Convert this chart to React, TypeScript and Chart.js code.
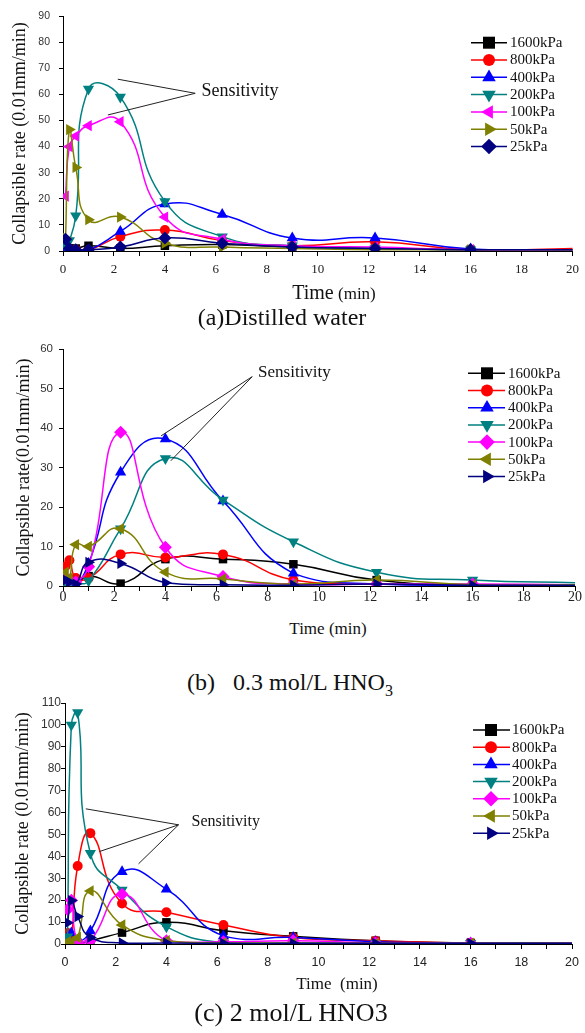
import React, { useEffect, useRef } from 'react';
import { Chart, registerables } from 'chart.js';

Chart.register(...registerables);

const SERIF = '"Liberation Serif", "Times New Roman", serif';
const SANS = '"Liberation Sans", Arial, sans-serif';

// Sampling times (min)
const TIMES = [0.1, 0.25, 0.5, 1, 2.25, 4, 6.25, 9, 12.25, 16, 20.25];
const LOADS = ['1600kPa', '800kPa', '400kPa', '200kPa', '100kPa', '50kPa', '25kPa'];
const COLORS = ['#000000', '#ff0000', '#0000ff', '#008080', '#ff00ff', '#808000', '#000080'];

// (a) Distilled water
const A_1600 = [3.5, 1, 1, 2, 1, 2, 2.5, 1.5, 1, 0.5, 0.5];
const A_800 = [1, 0.5, 0.5, 0.3, 5.5, 8, 4, 2, 3.5, 0.5, 1];
const A_400 = [1, 0.5, 0.3, 0.3, 7.5, 18, 14, 5, 5, 0.8, 0.5];
const A_200 = [2, 4, 13.5, 62, 59, 19, 5.5, 2, 1, 0.5, 0.5];
const A_100 = [21, 40, 44, 48, 49.5, 13, 4.5, 2, 1.5, 0.5, 0.5];
const A_50 = [5, 46.5, 32, 12, 13, 3, 1.5, 1, 0.5, 0.5, 0.5];
const A_25 = [4.5, 1, 0.5, 0.5, 1.5, 5, 3, 1.5, 1, 0.5, 0.5];

// (b) 0.3 mol/L HNO3
const B_1600 = [1.5, 1, 0.5, 2.5, 0.6, 6.8, 6.8, 5.5, 1.5, 0.3, 0.3];
const B_800 = [5, 6.5, 2, 2, 8, 7.2, 8, 1.5, 0.5, 0.3, 0.3];
const B_400 = [1, 0.5, 0.3, 5.7, 28.8, 37.2, 21.5, 3.2, 0.5, 0.2, 0.2];
const B_200 = [0.5, 0.5, 0.5, 1.3, 14.5, 32.3, 21.8, 11.2, 3.5, 1.5, 0.8];
const B_100 = [2, 1.5, 1, 4.9, 38.9, 9.8, 2.4, 0.5, 0.5, 0.5, 0.3];
const B_50 = [3.5, 2, 10.5, 10, 14.5, 3.5, 1.8, 0.5, 1.5, 0.3, 0.3];
const B_25 = [1.5, 1, 0.5, 6, 5.7, 0.8, 0.3, 0.2, 0.5, 0.2, 0.2];

// (c) 2 mol/L HNO3
const C_1600 = [4.9, 2, 0.5, 1.5, 5.2, 9.9, 6, 3.5, 1.5, 0.5, 0.3];
const C_800 = [5, 3, 35.6, 50.6, 18.5, 14.5, 8.7, 3, 1.5, 0.5, 0.3];
const C_400 = [3, 5, 1, 5.9, 33, 25, 3.7, 3, 1, 0.5, 0.3];
const C_200 = [3.3, 100, 105.7, 41.4, 24.7, 7.9, 0.5, 0.5, 0.3, 0.3, 0.3];
const C_100 = [15.8, 20, 1, 1.5, 22.7, 1.5, 1, 1.5, 0.5, 0.3, 0.3];
const C_50 = [1, 1, 3, 24.2, 8.7, 1.5, 0.5, 0.5, 0.3, 0.3, 0.3];
const C_25 = [9.7, 19.8, 12.5, 3, 0.5, 0.5, 0.3, 0.3, 0.3, 0.3, 0.3];

type Marker = 'square' | 'circle' | 'up' | 'down' | 'left' | 'right' | 'diamond';
const A_MARKERS: Marker[] = ['square', 'circle', 'up', 'down', 'left', 'right', 'diamond'];
const BC_MARKERS: Marker[] = ['square', 'circle', 'up', 'down', 'diamond', 'left', 'right'];

function pointStyleFor(m: Marker) {
  switch (m) {
    case 'square': return { style: 'rect', rot: 0, r: 6 };
    case 'circle': return { style: 'circle', rot: 0, r: 5 };
    case 'up': return { style: 'triangle', rot: 0, r: 6.5 };
    case 'down': return { style: 'triangle', rot: 180, r: 6.5 };
    case 'left': return { style: 'triangle', rot: 270, r: 6.5 };
    case 'right': return { style: 'triangle', rot: 90, r: 6.5 };
    default: return { style: 'rectRot', rot: 0, r: 6.5 };
  }
}

function drawMarker(ctx: CanvasRenderingContext2D, m: Marker, x: number, y: number, s: number, color: string) {
  ctx.save();
  ctx.fillStyle = color;
  ctx.beginPath();
  const tri = (deg: number) => {
    const R = s * 1.3;
    for (let k = 0; k < 3; k++) {
      const a = ((deg + k * 120) * Math.PI) / 180;
      const px = x + Math.sin(a) * R;
      const py = y - Math.cos(a) * R;
      if (k === 0) ctx.moveTo(px, py); else ctx.lineTo(px, py);
    }
    ctx.closePath();
  };
  switch (m) {
    case 'square': ctx.rect(x - s, y - s, 2 * s, 2 * s); break;
    case 'circle': ctx.arc(x, y, s, 0, Math.PI * 2); break;
    case 'up': tri(0); break;
    case 'down': tri(180); break;
    case 'left': tri(270); break;
    case 'right': tri(90); break;
    default: {
      const R = s * 1.3;
      ctx.moveTo(x, y - R); ctx.lineTo(x + R, y); ctx.lineTo(x, y + R); ctx.lineTo(x - R, y); ctx.closePath();
    }
  }
  ctx.fill();
  ctx.restore();
}

interface PanelProps {
  top: number;
  height: number;
  series: number[][];
  markers: Marker[];
  yMax: number;
  yTitle: string;
  yTitleSize: number;
  yTitleCenter: number;
  area: { left: number; right: number; top: number; bottom: number };
  yTickFont: { family: string; size: number };
  yTickPad: number;
  xTickFont: { family: string; size: number };
  xTickPad: number;
  legend: { x0: number; x1: number; xm: number; xt: number; y0: number; dy: number };
  annot: { apex: number[]; targets: number[][]; text: number[]; size: number };
}

function Panel(p: PanelProps) {
  const ref = useRef<HTMLCanvasElement>(null);
  useEffect(() => {
    const canvas = ref.current!;
    const overlay = {
      id: 'overlay',
      afterDatasetsDraw(chart: any) {
        const ctx: CanvasRenderingContext2D = chart.ctx;
        const xs = chart.scales.x;
        const ys = chart.scales.y;
        const ax = xs.getPixelForValue(p.annot.apex[0]);
        const ay = ys.getPixelForValue(p.annot.apex[1]);
        ctx.save();
        ctx.strokeStyle = '#222';
        ctx.lineWidth = 1;
        p.annot.targets.forEach((t) => {
          ctx.beginPath();
          ctx.moveTo(ax, ay);
          ctx.lineTo(xs.getPixelForValue(t[0]), ys.getPixelForValue(t[1]));
          ctx.stroke();
        });
        ctx.fillStyle = '#111';
        ctx.font = `${p.annot.size}px ${SERIF}`;
        ctx.textBaseline = 'middle';
        ctx.textAlign = 'left';
        ctx.fillText('Sensitivity', xs.getPixelForValue(p.annot.text[0]), ys.getPixelForValue(p.annot.text[1]));
        ctx.restore();
        const L = p.legend;
        ctx.save();
        LOADS.forEach((lab, i) => {
          const y = L.y0 + i * L.dy;
          ctx.strokeStyle = COLORS[i];
          ctx.lineWidth = 1.5;
          ctx.beginPath();
          ctx.moveTo(L.x0, y);
          ctx.lineTo(L.x1, y);
          ctx.stroke();
          drawMarker(ctx, p.markers[i], L.xm, y, 6, COLORS[i]);
          ctx.fillStyle = '#111';
          ctx.font = `15px ${SERIF}`;
          ctx.textBaseline = 'middle';
          ctx.textAlign = 'left';
          ctx.fillText(lab, L.xt, y + 0.5);
        });
        ctx.restore();
      },
    };
    const chart = new Chart(canvas, {
      type: 'line',
      data: {
        datasets: p.series.map((vals, i) => {
          const ps = pointStyleFor(p.markers[i]);
          return {
            label: LOADS[i],
            data: TIMES.map((t, j) => ({ x: t, y: vals[j] })),
            borderColor: COLORS[i],
            backgroundColor: COLORS[i],
            borderWidth: 1.5,
            pointStyle: ps.style as any,
            pointRotation: ps.rot,
            pointRadius: ps.r,
            pointBorderWidth: 0,
            pointBackgroundColor: COLORS[i],
            tension: 0.5,
            fill: false,
            order: 10 - i,
          };
        }),
      },
      options: {
        animation: false,
        responsive: false,
        events: [],
        layout: {
          padding: { left: 0, top: p.area.top, right: 585 - p.area.right, bottom: 0 },
        },
        plugins: { legend: { display: false }, tooltip: { enabled: false } },
        scales: {
          x: {
            type: 'linear',
            min: 0,
            max: 20,
            afterFit: (s: any) => { s.height = p.height - p.area.bottom; },
            grid: { drawOnChartArea: false, drawTicks: true, tickLength: 5, color: '#000' },
            border: { display: true, color: '#000', width: 1 },
            ticks: {
              stepSize: 1,
              autoSkip: false,
              maxRotation: 0,
              padding: p.xTickPad,
              color: '#222',
              font: p.xTickFont,
              callback: (v: any) => (Number(v) % 2 === 0 ? String(v) : ''),
            },
          },
          y: {
            type: 'linear',
            min: 0,
            max: p.yMax,
            afterFit: (s: any) => { s.width = p.area.left; },
            grid: { drawOnChartArea: false, drawTicks: true, tickLength: 4, color: '#000' },
            border: { display: true, color: '#000', width: 1 },
            ticks: { stepSize: 10, padding: p.yTickPad, color: '#333', font: p.yTickFont },
            title: {
              display: true,
              text: p.yTitle,
              color: '#111',
              font: { family: SERIF, size: p.yTitleSize },
              padding: { top: p.yTitleCenter - (p.yTitleSize * 1.2) / 2, bottom: 0 },
            },
          },
        },
      },
      plugins: [overlay],
    } as any);
    return () => chart.destroy();
  }, []);
  return (
    <canvas
      ref={ref}
      width={585}
      height={p.height}
      style={{ position: 'absolute', left: 0, top: p.top, width: 585, height: p.height }}
    />
  );
}

const textStyle = (left: number, top: number, size: number): React.CSSProperties => ({
  position: 'absolute',
  left,
  top,
  transform: 'translate(-50%, -50%)',
  fontFamily: SERIF,
  fontSize: size,
  lineHeight: 1,
  whiteSpace: 'pre',
  color: '#111',
});

export default function App() {
  return (
    <div style={{ position: 'absolute', left: 0, top: 0, width: 585, height: 1033, background: '#fff', overflow: 'hidden' }}>
      <Panel
        top={0}
        height={285}
        series={[A_1600, A_800, A_400, A_200, A_100, A_50, A_25]}
        markers={A_MARKERS}
        yMax={90}
        yTitle="Collapsible rate (0.01mm/min)"
        yTitleSize={18}
        yTitleCenter={20}
        area={{ left: 63, right: 578, top: 16, bottom: 251 }}
        yTickFont={{ family: SANS, size: 10.5 }}
        yTickPad={9}
        xTickFont={{ family: SERIF, size: 13 }}
        xTickPad={6}
        legend={{ x0: 471, x1: 507, xm: 489, xt: 510, y0: 42.7, dy: 17.3 }}
        annot={{ apex: [5.19, 60.4], targets: [[2.15, 65.8], [1.76, 52.1]], text: [5.44, 61], size: 18 }}
      />
      <div style={textStyle(334, 292, 20)}>Time<span style={{ fontSize: 17 }}> (min)</span></div>
      <div style={textStyle(282, 317, 24)}>(a)Distilled water</div>

      <Panel
        top={330}
        height={285}
        series={[B_1600, B_800, B_400, B_200, B_100, B_50, B_25]}
        markers={BC_MARKERS}
        yMax={60}
        yTitle="Collapsible rate(0.01mm/min)"
        yTitleSize={18}
        yTitleCenter={24}
        area={{ left: 63, right: 575, top: 19, bottom: 256 }}
        yTickFont={{ family: SANS, size: 11.5 }}
        yTickPad={6}
        xTickFont={{ family: SERIF, size: 14 }}
        xTickPad={-2}
        legend={{ x0: 468, x1: 505, xm: 487, xt: 508, y0: 43.3, dy: 17.2 }}
        annot={{ apex: [7.39, 53], targets: [[3.83, 38], [4.21, 31.7]], text: [7.62, 54.1], size: 17 }}
      />
      <div style={textStyle(328, 628, 17)}>Time (min)</div>
      <div style={textStyle(290, 682, 24)}>
        (b)   0.3 mol/L HNO<sub style={{ fontSize: 16, verticalAlign: 'sub', lineHeight: 0 }}>3</sub>
      </div>

      <Panel
        top={690}
        height={290}
        series={[C_1600, C_800, C_400, C_200, C_100, C_50, C_25]}
        markers={BC_MARKERS}
        yMax={110}
        yTitle="Collapsible rate (0.01mm/min)"
        yTitleSize={18}
        yTitleCenter={23.5}
        area={{ left: 65, right: 578, top: 13, bottom: 254 }}
        yTickFont={{ family: SANS, size: 12 }}
        yTickPad={0}
        xTickFont={{ family: SANS, size: 12.5 }}
        xTickPad={6}
        legend={{ x0: 473, x1: 510, xm: 491, xt: 512, y0: 40, dy: 17.2 }}
        annot={{ apex: [4.48, 54.4], targets: [[0.82, 61.7], [1.36, 42.2], [2.9, 36.6]], text: [4.99, 55.8], size: 16 }}
      />
      <div style={textStyle(337, 983, 17)}>Time  (min)</div>
      <div style={textStyle(291, 1013, 26)}>(c) 2 mol/L HNO3</div>
    </div>
  );
}
